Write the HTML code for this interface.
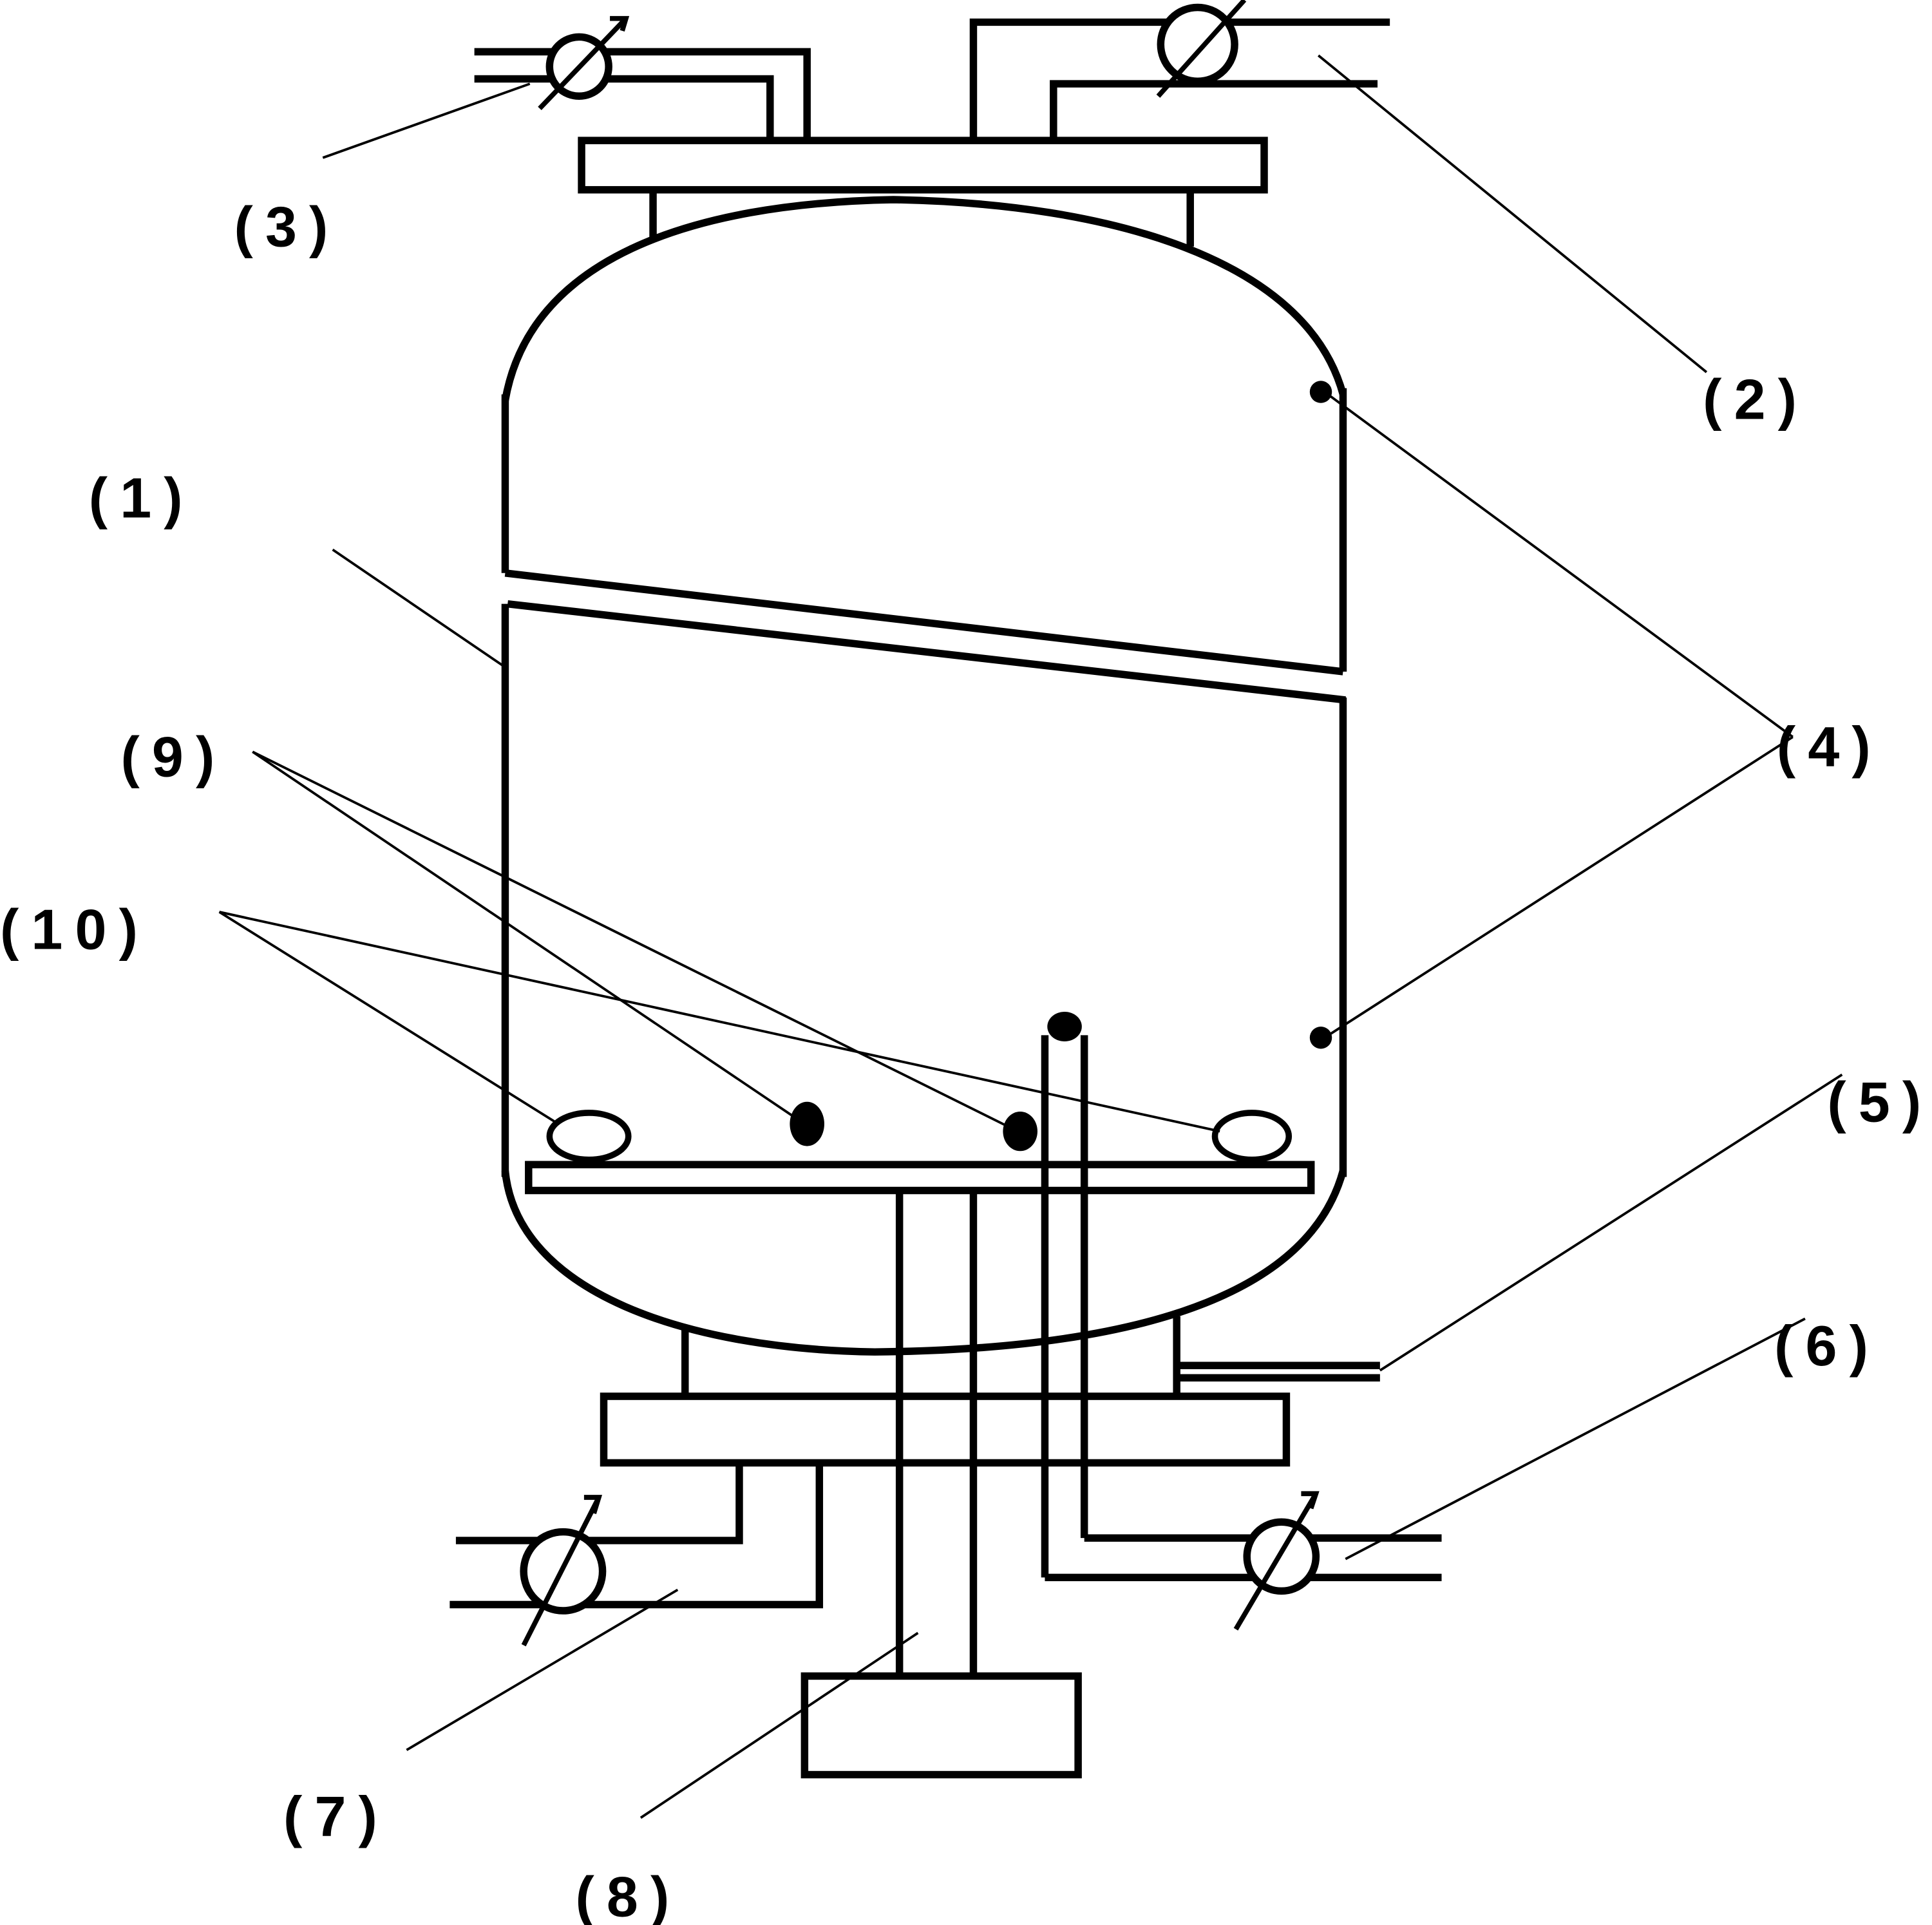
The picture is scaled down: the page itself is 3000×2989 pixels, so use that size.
<!DOCTYPE html>
<html><head><meta charset="utf-8"><style>html,body{margin:0;padding:0;background:#fff}svg{display:block}</style></head>
<body>
<svg width="3000" height="2989" viewBox="0 0 1568 1562" preserveAspectRatio="none" xmlns="http://www.w3.org/2000/svg">
<g fill="none" stroke="#000" stroke-width="6" stroke-linejoin="miter">
<rect x="472" y="114" width="554" height="40"/>
<line x1="530" y1="154" x2="530" y2="196"/>
<line x1="966" y1="154" x2="966" y2="200"/>
<path d="M410,325 C430,210 560,165 725,162 C900,165 1060,210 1090,320"/>
<line x1="410" y1="320" x2="410" y2="465"/>
<line x1="1090" y1="315" x2="1090" y2="545"/>
<line x1="410" y1="465" x2="1090" y2="545"/>
<line x1="412" y1="490" x2="1092" y2="568"/>
<line x1="410" y1="490" x2="410" y2="955"/>
<line x1="1090" y1="566" x2="1090" y2="955"/>
<path d="M410,950 C420,1050 560,1095 710,1097 C900,1095 1060,1060 1090,950"/>
<rect x="429" y="945" width="635" height="21"/>
<line x1="556" y1="1075" x2="556" y2="1133"/>
<line x1="955" y1="1068" x2="955" y2="1133"/>
<line x1="955" y1="1108" x2="1120" y2="1108"/>
<line x1="955" y1="1118" x2="1120" y2="1118"/>
<rect x="490" y="1133" width="554" height="54"/>
<line x1="730" y1="966" x2="730" y2="1360"/>
<line x1="790" y1="966" x2="790" y2="1360"/>
<rect x="653" y="1360" width="222" height="80"/>
<line x1="848" y1="840" x2="848" y2="1280"/>
<line x1="880" y1="840" x2="880" y2="1248"/>
<line x1="848" y1="1280" x2="1170" y2="1280"/>
<line x1="880" y1="1248" x2="1170" y2="1248"/>
<polyline points="600,1187 600,1250 370,1250"/>
<polyline points="665,1187 665,1302 365,1302"/>
<polyline points="655,114 655,42 385,42"/>
<polyline points="625,114 625,64 385,64"/>
<polyline points="790,114 790,18 1128,18"/>
<polyline points="855,114 855,68 1118,68"/>
</g>
<g stroke="#000" stroke-width="6" fill="#fff">
<circle cx="470" cy="54" r="24"/>
<circle cx="972" cy="36" r="30"/>
<circle cx="457" cy="1275" r="32"/>
<circle cx="1040" cy="1263" r="28"/>
</g>
<g stroke="#000" stroke-width="4" fill="none">
<line x1="438" y1="88" x2="508" y2="15"/><polyline points="495,15 508,15 505,25"/>
<line x1="940" y1="78" x2="1010" y2="0"/>
<line x1="425" y1="1335" x2="486" y2="1215"/><polyline points="474,1215 486,1215 482,1228"/>
<line x1="1003" y1="1322" x2="1068" y2="1212"/><polyline points="1056,1212 1068,1212 1064,1224"/>
</g>
<g fill="#000">
<circle cx="1072" cy="318" r="9"/>
<circle cx="1072" cy="842" r="9"/>
<ellipse cx="864" cy="833" rx="14" ry="12"/>
<ellipse cx="655" cy="912" rx="14" ry="18"/>
<ellipse cx="828" cy="918" rx="14" ry="16"/>
</g>
<g stroke="#000" stroke-width="5" fill="#fff">
<ellipse cx="478" cy="922" rx="32" ry="19"/>
<ellipse cx="1016" cy="922" rx="30" ry="19"/>
</g>
<g stroke="#000" stroke-width="2" fill="none">
<line x1="262" y1="128" x2="430" y2="68"/>
<line x1="1385" y1="302" x2="1070" y2="45"/>
<line x1="270" y1="446" x2="408" y2="540"/>
<line x1="1455" y1="598" x2="1075" y2="318"/>
<line x1="1455" y1="598" x2="1075" y2="842"/>
<line x1="1495" y1="872" x2="1120" y2="1112"/>
<line x1="1465" y1="1070" x2="1092" y2="1265"/>
<line x1="330" y1="1420" x2="550" y2="1290"/>
<line x1="520" y1="1475" x2="745" y2="1325"/>
<line x1="205" y1="610" x2="650" y2="910"/>
<line x1="205" y1="610" x2="820" y2="915"/>
<line x1="178" y1="740" x2="450" y2="910"/>
<line x1="178" y1="740" x2="990" y2="918"/>
</g>
<g font-family="Liberation Sans, 'Noto Sans CJK SC', sans-serif" font-weight="bold" font-size="46" fill="#000" letter-spacing="10">
<text x="190" y="200">(3)</text>
<text x="1382" y="340">(2)</text>
<text x="72" y="420">(1)</text>
<text x="98" y="630">(9)</text>
<text x="1442" y="622">(4)</text>
<text x="0" y="770">(10)</text>
<text x="1483" y="910">(5)</text>
<text x="1440" y="1108">(6)</text>
<text x="230" y="1490">(7)</text>
<text x="467" y="1555">(8)</text>
</g>
</svg>
</body></html>
